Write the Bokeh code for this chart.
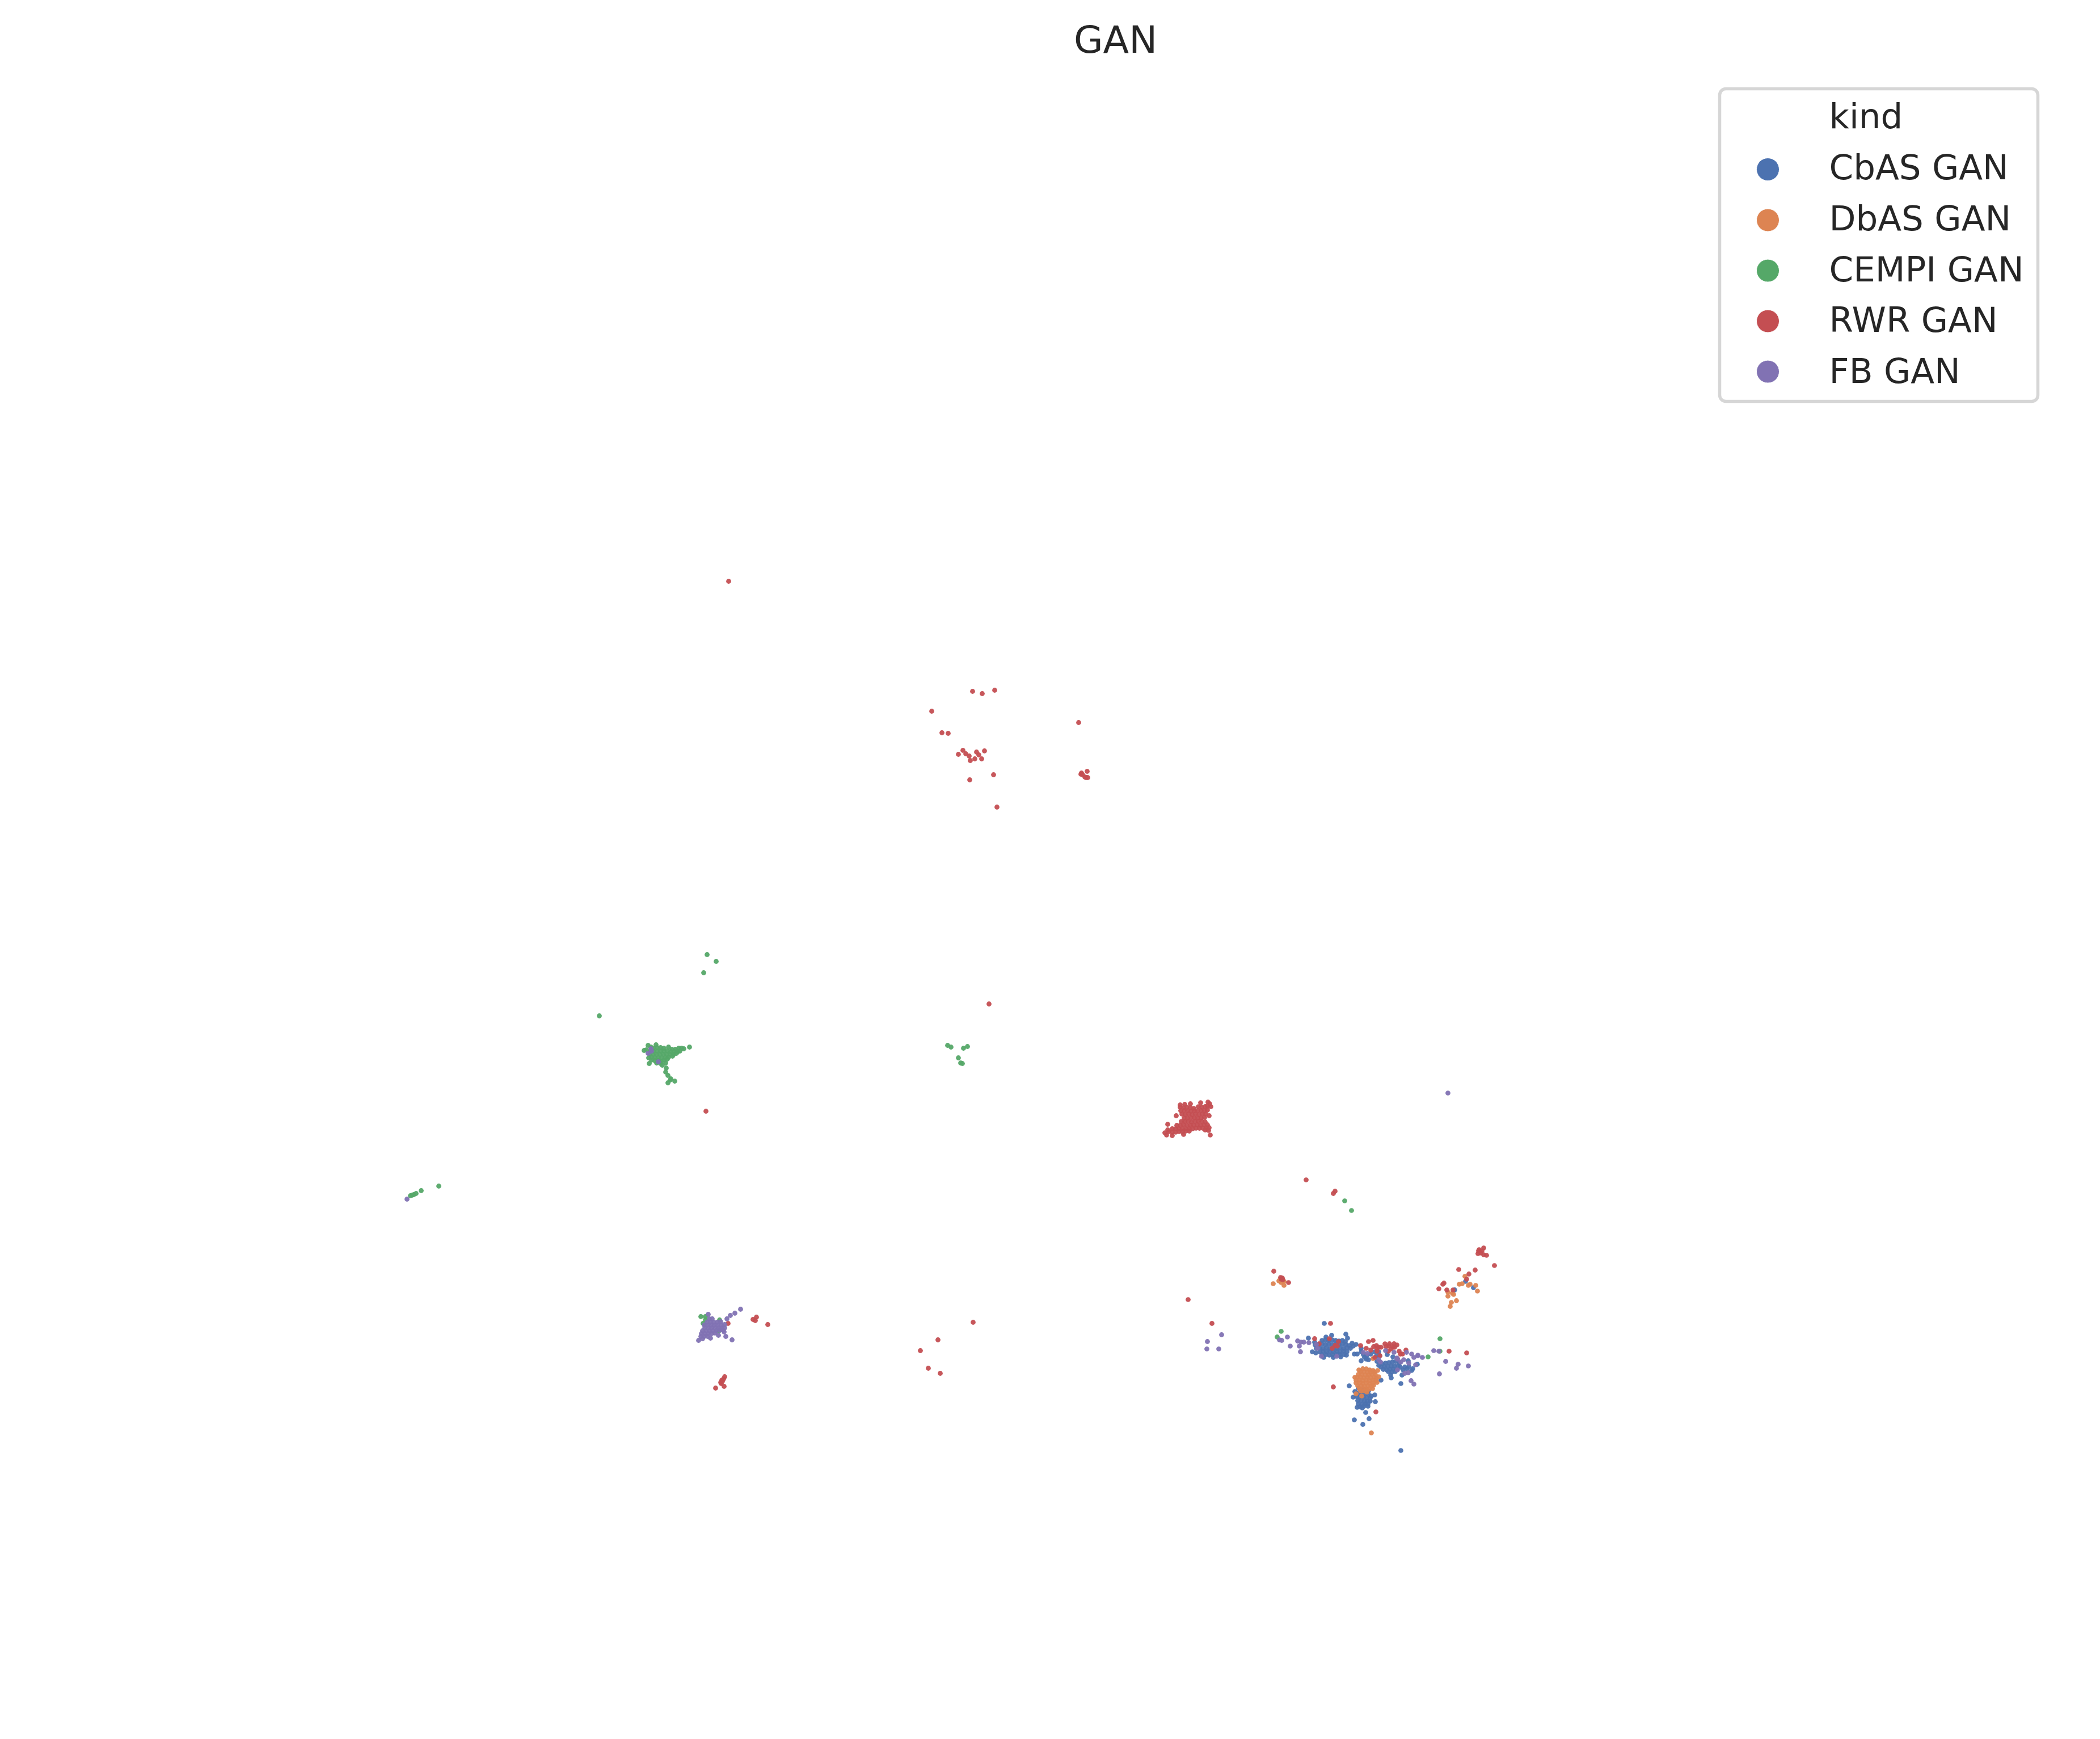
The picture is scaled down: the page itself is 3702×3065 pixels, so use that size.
from bokeh.embed import file_html
from bokeh.models import BoxAnnotation, ColumnDataSource, Range1d
from bokeh.plotting import figure
from bokeh.core.properties import value
from bokeh.resources import INLINE

title_text = "GAN"
legend_title = "kind"
kinds = ["CbAS GAN", "DbAS GAN", "CEMPI GAN", "RWR GAN", "FB GAN"]
colors = ["#4C72B0", "#DD8452", "#55A868", "#C44E52", "#8172B3"]

cbas_points = [
    (2334,2333),(2469,2557),(2387,2503),(2402,2511),(2413,2501),(2407,2490),(2378,2443),(2434,2433),(2469,2439),
    (2471,2424),(2452,2429),(2451,2424),(2583,2259),(2597,2270),(2564,2274),
    (2306,2359),(2347,2354),(2337,2357),(2372,2352),(2375,2359),(2313,2383),(2319,2385),(2333,2393),(2350,2393),
    (2363,2392),(2373,2389),(2390,2370),(2383,2368),(2317,2366),
    (2330,2363),(2336,2362),(2342,2363),(2348,2362),(2354,2363),(2360,2364),(2366,2363),(2371,2365),
    (2318,2371),(2324,2370),(2330,2369),(2336,2370),(2342,2369),(2348,2370),(2354,2369),(2360,2370),(2366,2369),(2372,2370),(2378,2372),(2385,2373),
    (2320,2377),(2326,2376),(2332,2377),(2338,2376),(2344,2377),(2350,2376),(2356,2377),(2362,2376),(2368,2377),(2374,2376),(2380,2377),
    (2326,2383),(2332,2382),(2338,2383),(2344,2382),(2350,2383),(2356,2382),(2362,2383),(2368,2382),(2374,2383),
    (2330,2388),(2337,2388),(2343,2389),(2349,2388),(2356,2388),(2362,2388),(2369,2388),
    (2399,2377),(2399,2399),(2387,2387),(2392,2387),(2403,2388),(2409,2390),(2405,2393),(2412,2397),(2408,2396),(2399,2383),(2416,2387),(2423,2383),(2430,2383),(2432,2390),(2426,2390),
    (2445,2388),(2455,2392),(2427,2400),(2430,2407),(2436,2404),(2442,2403),(2448,2402),(2454,2401),(2460,2400),(2466,2403),
    (2434,2410),(2440,2409),(2446,2409),(2452,2408),(2458,2408),(2464,2408),(2468,2410),
    (2438,2414),(2444,2415),(2450,2414),(2456,2414),(2462,2415),(2447,2418),(2453,2419),(2459,2418),
    (2476,2410),(2473,2415),(2480,2413),(2483,2409),(2490,2413),(2488,2416),(2498,2405),(2482,2399),
    (2423,2459),(2424,2471),(2415,2470),(2385,2463),(2388,2453),(2392,2481),(2401,2482),(2411,2479),
    (2394,2447),(2400,2450),(2406,2450),(2412,2452),(2394,2456),(2400,2456),(2406,2457),(2412,2458),(2417,2461),
    (2391,2462),(2397,2463),(2403,2463),(2409,2464),(2415,2464),(2393,2469),(2399,2469),(2405,2470),(2410,2470),
    (2394,2475),(2400,2476),(2406,2475),(2411,2475),(2397,2480),(2404,2479),
]
dbas_points = [
    (2244,2263),(2254,2258),(2258,2261),(2263,2266),(2263,2259),
    (2582,2250),(2572,2264),(2577,2263),(2591,2264),(2588,2266),(2601,2266),(2604,2276),(2552,2278),(2560,2280),
    (2562,2282),(2552,2285),(2558,2296),(2567,2293),(2556,2303),(2417,2526),(2420,2395),
    (2390,2457),(2400,2461),(2409,2454),(2428,2416),(2430,2427),(2395,2415),(2388,2428),(2419,2448),(2427,2437),
    (2402,2413),(2408,2413),(2414,2415),(2420,2416),
    (2398,2418),(2404,2418),(2410,2419),(2416,2419),(2422,2419),
    (2394,2423),(2400,2423),(2406,2424),(2412,2424),(2418,2423),(2424,2423),
    (2392,2428),(2398,2428),(2404,2429),(2410,2428),(2416,2429),(2422,2428),(2426,2430),
    (2390,2433),(2396,2433),(2402,2434),(2408,2433),(2414,2434),(2420,2433),(2425,2434),
    (2390,2438),(2396,2438),(2402,2439),(2408,2438),(2414,2439),(2420,2438),
    (2393,2443),(2399,2443),(2405,2444),(2411,2443),(2417,2443),(2421,2442),
    (2396,2448),(2402,2448),(2408,2449),(2414,2448),(2398,2452),(2404,2452),(2410,2451),
]
cempi_points = [
    (1246,1683),(1262,1695),(1240,1715),(1056,1791),
    (1670,1843),(1676,1846),(1698,1848),(1705,1845),(1689,1865),(1693,1874),(1696,1875),
    (723,2108),(726,2107),(729,2106),(733,2104),(742,2099),(773,2091),
    (2370,2117),(2382,2134),(2258,2347),(2251,2357),(2538,2360),(2538,2382),(2517,2392),
    (1215,1846),(1142,1843),(1156,1842),(1144,1875),(1174,1883),(1173,1890),(1177,1896),(1182,1902),(1189,1906),
    (1177,1909),(1181,1904),(1173,1874),(1167,1878),(1135,1852),(1139,1851),
    (1147,1846),(1151,1848),(1158,1847),(1164,1847),(1170,1848),(1178,1846),(1184,1850),(1190,1850),(1196,1848),(1201,1848),(1205,1849),
    (1146,1853),(1152,1853),(1158,1853),(1164,1853),(1170,1853),(1176,1853),(1182,1854),(1188,1854),(1194,1854),(1198,1853),
    (1145,1859),(1151,1859),(1157,1859),(1163,1859),(1169,1859),(1175,1859),(1181,1859),(1187,1859),(1192,1857),
    (1143,1865),(1148,1864),(1154,1865),(1160,1865),(1166,1865),(1172,1865),(1178,1864),(1185,1862),
    (1148,1869),(1154,1870),(1160,1870),(1165,1871),(1170,1869),(1176,1867),(1157,1874),(1164,1875),
    (1235,2321),(1243,2321),(1268,2327),(1239,2333),(1267,2346),(1243,2327),
]
rwr_points = [
    (1284,1025),(1714,1219),(1731,1223),(1753,1217),(1642,1254),(1901,1274),(1660,1292),(1671,1293),(1697,1323),
    (1689,1330),(1702,1329),(1708,1333),(1721,1326),(1725,1331),(1735,1324),(1718,1338),(1710,1341),(1730,1338),
    (1751,1366),(1709,1375),(1757,1423),(1916,1360),(1906,1363),(1905,1365),(1908,1366),(1912,1370),(1914,1371),(1917,1371),
    (1743,1770),(1244,1959),(2302,2080),(2353,2100),(2350,2104),
    (2133,2001),(2086,2000),(2066,2002),(2056,2001),(2053,1997),(2058,1982),(2073,1967),(2131,1967),(2134,1951),
    (2129,1943),(2116,1944),(2098,1946),(2088,1947),(2080,1948),(2132,1946),
    (2080,1952),(2086,1953),(2092,1952),(2098,1953),(2104,1954),(2112,1951),(2118,1952),(2124,1951),(2128,1950),
    (2081,1958),(2087,1958),(2093,1958),(2099,1959),(2105,1958),(2111,1958),(2117,1958),(2123,1958),(2128,1957),
    (2083,1964),(2089,1965),(2095,1964),(2101,1965),(2107,1964),(2113,1965),(2119,1964),(2125,1964),
    (2087,1971),(2093,1971),(2099,1971),(2105,1971),(2111,1971),(2117,1971),(2123,1970),
    (2082,1977),(2088,1977),(2094,1977),(2100,1978),(2106,1977),(2112,1977),(2118,1977),(2124,1978),
    (2074,1984),(2080,1984),(2086,1983),(2092,1984),(2098,1984),(2104,1984),(2110,1983),(2116,1984),(2122,1983),(2128,1983),
    (2066,1990),(2072,1990),(2078,1990),(2084,1990),(2090,1990),(2096,1990),(2102,1990),(2108,1989),(2114,1989),(2120,1989),(2126,1988),(2131,1988),
    (2060,1995),(2066,1996),(2072,1996),(2078,1995),(2084,1995),(2090,1994),(2096,1994),(2124,1992),(2130,1993),(2058,1992),
    (1283,2333),(1333,2322),(1327,2326),(1331,2328),(1353,2335),
    (1277,2427),(1275,2431),(1272,2433),(1270,2437),(1271,2439),(1276,2444),(1261,2447),(1273,2435),
    (1622,2381),(1653,2362),(1715,2331),(1636,2412),(1657,2421),(2094,2291),(2136,2333),
    (2245,2241),(2257,2252),(2260,2253),(2258,2255),(2261,2256),(2271,2261),
    (2615,2200),(2607,2203),(2606,2205),(2612,2205),(2605,2210),(2610,2209),(2615,2212),(2620,2213),(2634,2231),
    (2571,2238),(2600,2239),(2589,2246),(2585,2255),(2545,2262),(2543,2264),(2536,2272),(2550,2274),(2561,2274),
    (2345,2333),(2350,2445),(2425,2489),(2554,2382),(2585,2385),
    (2317,2360),(2325,2369),(2343,2360),(2359,2365),(2353,2372),(2348,2377),(2357,2373),(2398,2372),(2412,2365),
    (2420,2363),(2408,2377),(2416,2380),(2421,2374),(2426,2372),(2427,2377),(2430,2375),(2434,2375),(2427,2382),
    (2432,2390),(2423,2393),(2441,2369),(2443,2374),(2449,2369),(2448,2373),(2457,2369),(2462,2371),(2455,2374),
    (2452,2378),(2447,2382),(2458,2375),(2466,2382),(2478,2380),(2468,2387),(2472,2387),(2463,2395),
]
fb_points = [
    (717,2114),(1147,1849),(1148,1853),(1142,1857),(1160,1872),(2552,1927),
    (2153,2353),(2128,2365),(2127,2378),(2148,2378),
    (1305,2308),(1295,2315),(1287,2319),(1281,2325),(1248,2317),(1290,2362),(1279,2356),(1266,2354),(1252,2359),(1276,2348),(1231,2363),
    (1250,2325),(1255,2325),(1246,2331),(1252,2331),(1258,2331),(1264,2331),(1270,2330),
    (1241,2336),(1247,2336),(1253,2336),(1259,2336),(1265,2336),(1271,2336),(1277,2335),
    (1242,2341),(1248,2341),(1254,2341),(1260,2341),(1266,2341),(1272,2341),(1277,2341),
    (1238,2346),(1244,2346),(1250,2346),(1256,2346),(1262,2346),(1268,2345),(1274,2345),
    (1236,2351),(1242,2351),(1248,2351),(1254,2351),(1260,2350),(1235,2356),(1241,2356),(1247,2356),(1238,2360),
    (2269,2357),(2255,2362),(2259,2363),(2274,2373),(2287,2364),(2290,2373),(2292,2383),(2293,2366),(2298,2366),
    (2307,2367),(2320,2370),(2322,2377),(2329,2391),(2356,2391),(2403,2384),(2410,2386),(2442,2381),(2457,2384),
    (2479,2384),(2488,2387),(2492,2393),(2499,2389),(2499,2390),(2507,2393),(2527,2381),(2536,2382),(2548,2400),
    (2570,2405),(2567,2412),(2588,2408),(2537,2422),(2430,2397),(2433,2401),(2462,2394),(2463,2396),(2474,2397),
    (2469,2401),(2483,2403),(2495,2406),(2463,2415),(2476,2421),(2482,2420),(2487,2434),(2492,2440),
]
series_points = [cbas_points, dbas_points, cempi_points, rwr_points, fb_points]

p = figure(width=3694, height=3057, output_backend="svg", toolbar_location=None,
           x_range=Range1d(0, 3694), y_range=Range1d(3058, 1),
           x_axis_location=None, y_axis_location=None, min_border=0, outline_line_color=None)
p.grid.visible = False
p.background_fill_color = "white"
p.border_fill_color = "white"

for pts, c in zip(series_points, colors):
    src = ColumnDataSource(dict(x=[a for a, _ in pts], y=[b for _, b in pts]))
    p.scatter("x", "y", source=src, size=8.8, fill_color=c, fill_alpha=0.95, line_color=None)

p.text(x=[1966], y=[70], text=[title_text], text_font=value("DejaVu Sans"), text_font_size="66.7px",
       text_color="#262626", text_align="center", text_baseline="middle")

# legend
leg_marker_x = [3116] * 5
leg_y = [299, 388.5, 477.5, 566.5, 655.5]
p.scatter(leg_marker_x, leg_y, size=40, fill_color=colors, line_color="white", line_width=1)
p.text(x=[3224] * 6, y=[205, 295, 385, 475, 564, 654], text=[legend_title] + kinds,
       text_font=value("DejaVu Sans"), text_font_size="61.1px", text_color="#262626",
       text_align="left", text_baseline="middle")
p.add_layout(BoxAnnotation(left=3031, right=3592, top=157, bottom=708, fill_alpha=0,
                           line_color="#d6d6d6", line_alpha=1, line_width=5.5, border_radius=11,
                           left_units="data", right_units="data", top_units="data", bottom_units="data"))

open("out.html", "w").write(file_html(p, INLINE))
